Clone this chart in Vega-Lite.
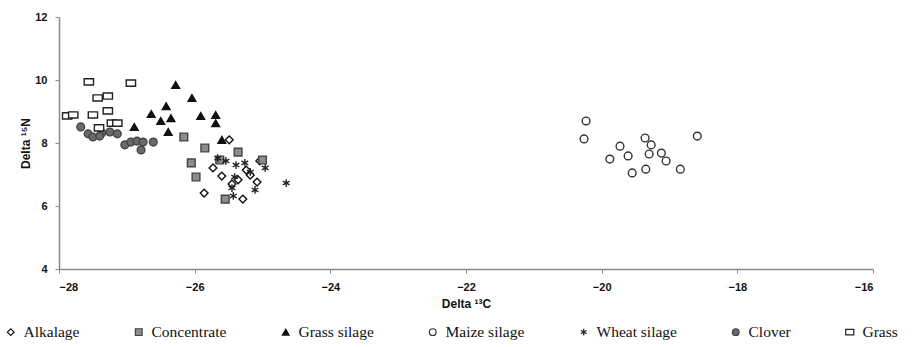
{
  "$schema": "https://vega.github.io/schema/vega-lite/v6.json",
  "width": 814,
  "height": 252,
  "autosize": {"type": "none"},
  "padding": {"left": 59, "top": 17, "right": 49, "bottom": 78},
  "background": "white",
  "data": {
    "values": [
      {"feed": "Alkalage", "c": -25.49, "n": 8.10},
      {"feed": "Alkalage", "c": -25.73, "n": 7.21},
      {"feed": "Alkalage", "c": -25.04, "n": 7.43},
      {"feed": "Alkalage", "c": -25.24, "n": 7.14},
      {"feed": "Alkalage", "c": -25.86, "n": 6.41},
      {"feed": "Alkalage", "c": -25.29, "n": 6.22},
      {"feed": "Alkalage", "c": -25.36, "n": 6.83},
      {"feed": "Alkalage", "c": -25.08, "n": 6.76},
      {"feed": "Alkalage", "c": -25.45, "n": 6.70},
      {"feed": "Alkalage", "c": -25.18, "n": 6.98},
      {"feed": "Alkalage", "c": -25.60, "n": 6.95},
      {"feed": "Concentrate", "c": -26.16, "n": 8.19},
      {"feed": "Concentrate", "c": -25.85, "n": 7.84},
      {"feed": "Concentrate", "c": -26.05, "n": 7.37},
      {"feed": "Concentrate", "c": -25.98, "n": 6.92},
      {"feed": "Concentrate", "c": -25.55, "n": 6.22},
      {"feed": "Concentrate", "c": -25.36, "n": 7.71},
      {"feed": "Concentrate", "c": -25.00, "n": 7.46},
      {"feed": "Concentrate", "c": -25.63, "n": 7.46},
      {"feed": "Grass silage", "c": -26.28, "n": 9.84},
      {"feed": "Grass silage", "c": -26.04, "n": 9.43},
      {"feed": "Grass silage", "c": -26.42, "n": 9.17},
      {"feed": "Grass silage", "c": -26.64, "n": 8.92},
      {"feed": "Grass silage", "c": -26.50, "n": 8.70},
      {"feed": "Grass silage", "c": -26.35, "n": 8.79},
      {"feed": "Grass silage", "c": -26.39, "n": 8.35},
      {"feed": "Grass silage", "c": -25.91, "n": 8.86},
      {"feed": "Grass silage", "c": -25.69, "n": 8.89},
      {"feed": "Grass silage", "c": -25.69, "n": 8.63},
      {"feed": "Grass silage", "c": -25.60, "n": 8.10},
      {"feed": "Grass silage", "c": -26.89, "n": 8.51},
      {"feed": "Maize silage", "c": -19.36, "n": 8.16},
      {"feed": "Maize silage", "c": -19.27, "n": 7.94},
      {"feed": "Maize silage", "c": -18.59, "n": 8.22},
      {"feed": "Maize silage", "c": -19.73, "n": 7.90},
      {"feed": "Maize silage", "c": -19.61, "n": 7.59},
      {"feed": "Maize silage", "c": -19.30, "n": 7.65},
      {"feed": "Maize silage", "c": -19.12, "n": 7.68},
      {"feed": "Maize silage", "c": -19.05, "n": 7.43},
      {"feed": "Maize silage", "c": -19.88, "n": 7.49},
      {"feed": "Maize silage", "c": -19.55, "n": 7.05},
      {"feed": "Maize silage", "c": -19.35, "n": 7.17},
      {"feed": "Maize silage", "c": -18.84, "n": 7.17},
      {"feed": "Maize silage", "c": -20.23, "n": 8.70},
      {"feed": "Maize silage", "c": -20.26, "n": 8.13},
      {"feed": "Wheat silage", "c": -25.66, "n": 7.52},
      {"feed": "Wheat silage", "c": -25.54, "n": 7.43},
      {"feed": "Wheat silage", "c": -25.39, "n": 7.30},
      {"feed": "Wheat silage", "c": -25.26, "n": 7.37},
      {"feed": "Wheat silage", "c": -25.41, "n": 6.92},
      {"feed": "Wheat silage", "c": -25.45, "n": 6.57},
      {"feed": "Wheat silage", "c": -25.43, "n": 6.32},
      {"feed": "Wheat silage", "c": -25.18, "n": 7.08},
      {"feed": "Wheat silage", "c": -25.11, "n": 6.51},
      {"feed": "Wheat silage", "c": -24.65, "n": 6.73},
      {"feed": "Wheat silage", "c": -24.96, "n": 7.21},
      {"feed": "Clover", "c": -27.68, "n": 8.51},
      {"feed": "Clover", "c": -27.57, "n": 8.29},
      {"feed": "Clover", "c": -27.50, "n": 8.19},
      {"feed": "Clover", "c": -27.37, "n": 8.32},
      {"feed": "Clover", "c": -27.25, "n": 8.35},
      {"feed": "Clover", "c": -27.14, "n": 8.29},
      {"feed": "Clover", "c": -27.03, "n": 7.94},
      {"feed": "Clover", "c": -26.94, "n": 8.03},
      {"feed": "Clover", "c": -26.85, "n": 8.06},
      {"feed": "Clover", "c": -26.76, "n": 8.03},
      {"feed": "Clover", "c": -26.61, "n": 8.03},
      {"feed": "Clover", "c": -26.79, "n": 7.78},
      {"feed": "Clover", "c": -27.40, "n": 8.22},
      {"feed": "Grass", "c": -27.56, "n": 9.94},
      {"feed": "Grass", "c": -26.94, "n": 9.90},
      {"feed": "Grass", "c": -27.43, "n": 9.43},
      {"feed": "Grass", "c": -27.28, "n": 9.49},
      {"feed": "Grass", "c": -27.88, "n": 8.86},
      {"feed": "Grass", "c": -27.79, "n": 8.89},
      {"feed": "Grass", "c": -27.50, "n": 8.89},
      {"feed": "Grass", "c": -27.28, "n": 9.02},
      {"feed": "Grass", "c": -27.22, "n": 8.63},
      {"feed": "Grass", "c": -27.14, "n": 8.63},
      {"feed": "Grass", "c": -27.41, "n": 8.48}
    ]
  },
  "mark": {"type": "point", "opacity": 1, "strokeWidth": 1.4, "size": 60},
  "encoding": {
    "x": {
      "field": "c", "type": "quantitative",
      "scale": {"domain": [-28, -16], "nice": false, "zero": false},
      "axis": {"values": [-28, -26, -24, -22, -20, -18, -16], "title": "Delta ¹³C"}
    },
    "y": {
      "field": "n", "type": "quantitative",
      "scale": {"domain": [4, 12], "nice": false, "zero": false},
      "axis": {"values": [4, 6, 8, 10, 12], "title": "Delta ¹⁵N"}
    },
    "shape": {
      "field": "feed", "type": "nominal", "title": null,
      "scale": {
        "domain": ["Alkalage", "Concentrate", "Grass silage", "Maize silage", "Wheat silage", "Clover", "Grass"],
        "range": ["diamond", "square", "triangle-up", "circle", "M0,-1L0,1M-0.87,-0.5L0.87,0.5M-0.87,0.5L0.87,-0.5", "circle", "M-1.2,-0.8H1.2V0.8H-1.2Z"]
      }
    },
    "fill": {
      "field": "feed", "type": "nominal", "title": null,
      "scale": {
        "domain": ["Alkalage", "Concentrate", "Grass silage", "Maize silage", "Wheat silage", "Clover", "Grass"],
        "range": ["white", "#8c8c8c", "#111111", "white", "white", "#6a6a6a", "white"]
      }
    },
    "stroke": {
      "field": "feed", "type": "nominal", "title": null,
      "scale": {
        "domain": ["Alkalage", "Concentrate", "Grass silage", "Maize silage", "Wheat silage", "Clover", "Grass"],
        "range": ["#111111", "#444444", "#111111", "#333333", "#222222", "#444444", "#222222"]
      }
    }
  },
  "config": {
    "view": {"stroke": null},
    "axis": {
      "grid": false,
      "domainColor": "#8a8a8a",
      "domainWidth": 1.5,
      "tickColor": "#8a8a8a",
      "tickSize": 4,
      "labelFont": "Liberation Sans",
      "labelFontWeight": "bold",
      "labelFontSize": 11,
      "labelColor": "#111111",
      "titleFont": "Liberation Sans",
      "titleFontWeight": "bold",
      "titleFontSize": 12,
      "titleColor": "#111111"
    },
    "axisX": {"labelPadding": 8, "titlePadding": 6},
    "axisY": {"labelPadding": 8, "titlePadding": 2},
    "legend": {
      "orient": "none",
      "legendX": -56,
      "legendY": 307,
      "direction": "horizontal",
      "columnPadding": 51,
      "labelFont": "Liberation Serif",
      "labelFontSize": 15.5,
      "labelColor": "#111111",
      "symbolSize": 45,
      "symbolStrokeWidth": 1.2,
      "labelOffset": 5
    }
  }
}
